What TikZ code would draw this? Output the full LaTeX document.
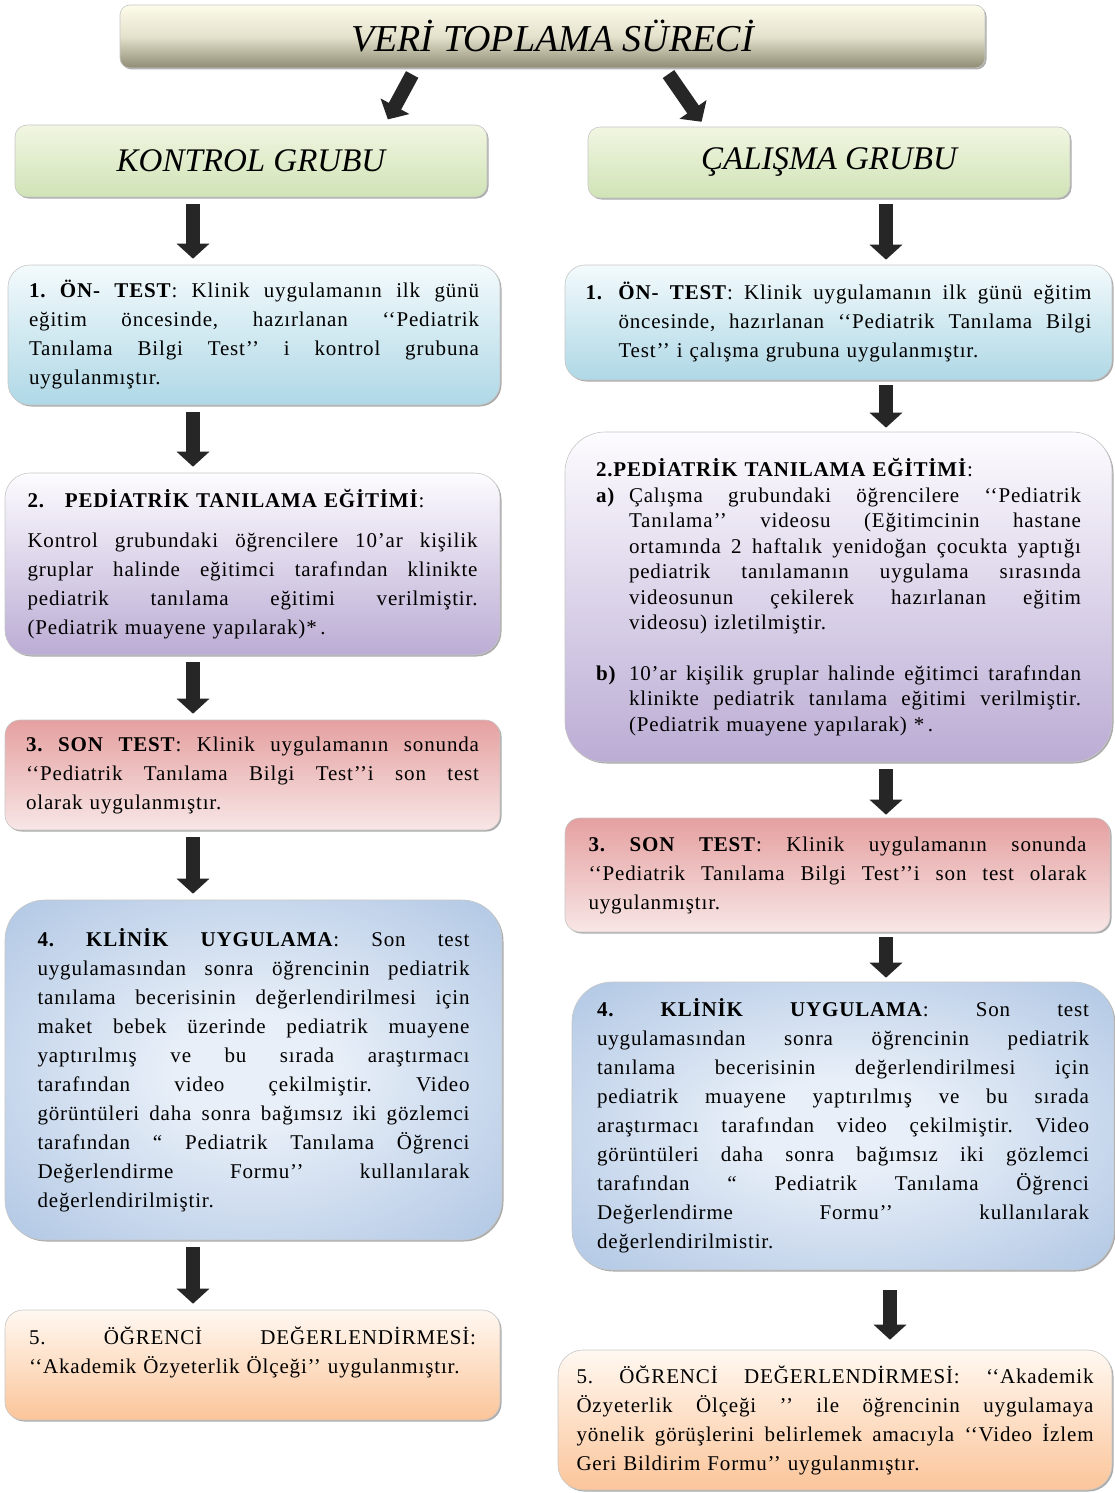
\documentclass[tikz,border=0pt]{standalone}
\usepackage{fontspec}
\setmainfont{Liberation Serif}[LetterSpace=4]
\newfontfamily\headfont{Liberation Serif}
\usepackage{graphicx}
\usetikzlibrary{arrows.meta,shadows}
\setlength{\parindent}{0pt}
\frenchspacing
\definecolor{tiTop}{HTML}{FDFBEA}
\definecolor{tiMid}{HTML}{E4E1CC}
\definecolor{tiBot}{HTML}{8E8C74}
\definecolor{grTop}{HTML}{F1F6E2}
\definecolor{grBot}{HTML}{D0E3B6}
\definecolor{blTop}{HTML}{F3FAFC}
\definecolor{blBot}{HTML}{AFD8E6}
\definecolor{lvTop}{HTML}{FDFCFF}
\definecolor{lvBot}{HTML}{BBACD4}
\definecolor{rdTop}{HTML}{E5A0A0}
\definecolor{rdBot}{HTML}{F8E6E6}
\definecolor{sbIn}{HTML}{E8EFF8}
\definecolor{sbOut}{HTML}{8AABD6}
\definecolor{orTop}{HTML}{FFF8F1}
\definecolor{orBot}{HTML}{FBC59A}
\pgfdeclareradialshading{softradial}{\pgfpoint{0bp}{0bp}}{%
  color(0bp)=(sbIn); color(8bp)=(sbIn); color(55bp)=(sbOut); color(72bp)=(sbOut)}
\newlength{\lw}
\newcommand\jl[1]{{\spaceskip=0pt\xspaceskip=0pt\makebox[\lw][s]{#1}}}
\newcommand\indj[1]{{\spaceskip=0pt\xspaceskip=0pt\makebox[\dimexpr\lw-33pt\relax][s]{#1}}}
\tikzset{
  box/.style={draw=gray!45, line width=0.6pt, align=left, inner sep=0pt,
    font=\fontsize{21}{29}\selectfont,
    drop shadow={shadow xshift=1.5pt, shadow yshift=-1.5pt, fill=black!60, opacity=0.55}},
  tw/.style={text width=#1, execute at begin node={\setlength{\lw}{#1}}},
  titlebox/.style={box, top color=tiTop, bottom color=tiBot, middle color=tiMid, rounded corners=10pt},
  greenbox/.style={box, top color=grTop, bottom color=grBot, rounded corners=12pt},
  bluebox/.style={box, top color=blTop, bottom color=blBot},
  lavbox/.style={box, top color=lvTop, bottom color=lvBot},
  redbox/.style={box, top color=rdTop, bottom color=rdBot},
  steelbox/.style={box, shading=softradial},
  orangebox/.style={box, top color=orTop, bottom color=orBot},
  bigarrow/.style={draw=black!85, line width=14pt, -{Triangle[width=32pt,length=15pt]},
    shorten <=7pt, shorten >=6pt}
}
\begin{document}
\begin{tikzpicture}[x=1pt, y=-1pt]
\useasboundingbox (0,0) rectangle (1114,1493);
\coordinate (axL) at (193,0);
\coordinate (axR) at (886,0);
\coordinate (axR2) at (890,0);

\node[titlebox, minimum width=865pt, minimum height=63pt] (ti) at (552.5,36.5)
  {\headfont\fontsize{38}{40}\selectfont\itshape VERİ TOPLAMA SÜRECİ};
\node[greenbox, minimum width=472pt, minimum height=72pt] (K) at (251,161)
  {\headfont\fontsize{33}{36}\selectfont\itshape KONTROL GRUBU};
\node[greenbox, minimum width=482pt, minimum height=71pt] (C) at (829,162.5)
  {\headfont\fontsize{33}{36}\selectfont\itshape ÇALIŞMA GRUBU};

% left column
\node[bluebox, rounded corners=22pt, minimum width=492pt, minimum height=140pt, tw=450pt] (L1) at (254,335) {%
\jl{\textbf{1. ÖN- TEST}: Klinik uygulamanın ilk günü}\\
\jl{eğitim öncesinde, hazırlanan ‘‘Pediatrik}\\
\jl{Tanılama Bilgi Test’’ i kontrol grubuna}\\
uygulanmıştır.};

\node[lavbox, rounded corners=25pt, minimum width=495pt, minimum height=182pt, tw=450pt] (L2) at (252.5,564) {%
\textbf{2.}\hspace{20pt}\textbf{PEDİATRİK TANILAMA EĞİTİMİ}:\\[11pt]
\jl{Kontrol grubundaki öğrencilere 10’ar kişilik}\\
\jl{gruplar halinde eğitimci tarafından klinikte}\\
\jl{pediatrik tanılama eğitimi verilmiştir.}\\
(Pediatrik muayene yapılarak)*\,.};

\node[redbox, rounded corners=15pt, minimum width=495pt, minimum height=110pt, tw=453pt] (L3) at (252.5,775) {%
\jl{\textbf{3. SON TEST}: Klinik uygulamanın sonunda}\\
\jl{‘‘Pediatrik Tanılama Bilgi Test’’i son test}\\
olarak uygulanmıştır.};

\node[steelbox, rounded corners=40pt, minimum width=497pt, minimum height=340pt, tw=432pt] (L4) at (253.5,1070) {%
\jl{\textbf{4. KLİNİK UYGULAMA}: Son test}\\
\jl{uygulamasından sonra öğrencinin pediatrik}\\
\jl{tanılama becerisinin değerlendirilmesi için}\\
\jl{maket bebek üzerinde pediatrik muayene}\\
\jl{yaptırılmış ve bu sırada araştırmacı}\\
\jl{tarafından video çekilmiştir. Video}\\
\jl{görüntüleri daha sonra bağımsız iki gözlemci}\\
\jl{tarafından “ Pediatrik Tanılama Öğrenci}\\
\jl{Değerlendirme Formu’’ kullanılarak}\\
değerlendirilmiştir.};

\node[orangebox, rounded corners=18pt, minimum width=495pt, minimum height=110pt, tw=447pt] (L5) at (252.5,1365) {%
\jl{5. ÖĞRENCİ DEĞERLENDİRMESİ:}\\
‘‘Akademik Özyeterlik Ölçeği’’ uygulanmıştır.\\
\mbox{}};

% right column
\node[bluebox, rounded corners=20pt, minimum width=547pt, minimum height=115pt, tw=506pt] (R1) at (838.5,322.5) {%
\makebox[33pt][l]{\textbf{1.}}\indj{\textbf{ÖN- TEST}: Klinik uygulamanın ilk günü eğitim}\\
\hspace*{33pt}\indj{öncesinde, hazırlanan ‘‘Pediatrik Tanılama Bilgi}\\
\hspace*{33pt}Test’’ i çalışma grubuna uygulanmıştır.};

\node[lavbox, rounded corners=40pt, minimum width=547pt, minimum height=330pt, tw=485pt,
  font=\fontsize{21}{25.5}\selectfont] (R2) at (838.5,597) {%
\textbf{2.PEDİATRİK TANILAMA EĞİTİMİ}:\\
\makebox[33pt][l]{\textbf{a)}}\indj{Çalışma grubundaki öğrencilere ‘‘Pediatrik}\\
\hspace*{33pt}\indj{Tanılama’’ videosu (Eğitimcinin hastane}\\
\hspace*{33pt}\indj{ortamında 2 haftalık yenidoğan çocukta yaptığı}\\
\hspace*{33pt}\indj{pediatrik tanılamanın uygulama sırasında}\\
\hspace*{33pt}\indj{videosunun çekilerek hazırlanan eğitim}\\
\hspace*{33pt}videosu) izletilmiştir.\\[25pt]
\makebox[33pt][l]{\textbf{b)}}\indj{10’ar kişilik gruplar halinde eğitimci tarafından}\\
\hspace*{33pt}\indj{klinikte pediatrik tanılama eğitimi verilmiştir.}\\
\hspace*{33pt}(Pediatrik muayene yapılarak) *\,.};

\node[redbox, rounded corners=15pt, minimum width=545pt, minimum height=114pt, tw=498pt] (R3) at (837.5,875) {%
\jl{\textbf{3. SON TEST}: Klinik uygulamanın sonunda}\\
\jl{‘‘Pediatrik Tanılama Bilgi Test’’i son test olarak}\\
uygulanmıştır.};

\node[steelbox, rounded corners=40pt, minimum width=542pt, minimum height=288pt, tw=492pt] (R4) at (843,1126) {%
\jl{\textbf{4. KLİNİK UYGULAMA}: Son test}\\
\jl{uygulamasından sonra öğrencinin pediatrik}\\
\jl{tanılama becerisinin değerlendirilmesi için}\\
\jl{pediatrik muayene yaptırılmış ve bu sırada}\\
\jl{araştırmacı tarafından video çekilmiştir. Video}\\
\jl{görüntüleri daha sonra bağımsız iki gözlemci}\\
\jl{tarafından “ Pediatrik Tanılama Öğrenci}\\
\jl{Değerlendirme Formu’’ kullanılarak}\\
değerlendirilmistir.};

\node[orangebox, rounded corners=25pt, minimum width=554pt, minimum height=140pt, tw=517pt] (R5) at (835,1420) {%
\jl{5. ÖĞRENCİ DEĞERLENDİRMESİ: ‘‘Akademik}\\
\jl{Özyeterlik Ölçeği ’’ ile öğrencinin uygulamaya}\\
\jl{yönelik görüşlerini belirlemek amacıyla ‘‘Video İzlem}\\
Geri Bildirim Formu’’ uygulanmıştır.};

% arrows
\draw[bigarrow] ([xshift=-137pt]ti.south) -- ([xshift=134pt]K.north);
\draw[bigarrow] ([xshift=112pt]ti.south) -- ([xshift=-124pt]C.north);

\draw[bigarrow] (K.south -| axL) -- (L1.north -| axL);
\draw[bigarrow] (L1.south -| axL) -- (L2.north -| axL);
\draw[bigarrow] (L2.south -| axL) -- (L3.north -| axL);
\draw[bigarrow] (L3.south -| axL) -- (L4.north -| axL);
\draw[bigarrow] (L4.south -| axL) -- (L5.north -| axL);

\draw[bigarrow, shorten <=6pt, shorten >=5pt] (C.south -| axR) -- (R1.north -| axR);
\draw[bigarrow, shorten <=5pt, shorten >=4pt] (R1.south -| axR) -- (R2.north -| axR);
\draw[bigarrow, shorten <=7pt, shorten >=3pt] (R2.south -| axR) -- (R3.north -| axR);
\draw[bigarrow, shorten <=5pt, shorten >=4pt] (R3.south -| axR) -- (R4.north -| axR);
\draw[bigarrow, shorten <=20pt, shorten >=10pt] (R4.south -| axR2) -- (R5.north -| axR2);
\end{tikzpicture}
\end{document}
